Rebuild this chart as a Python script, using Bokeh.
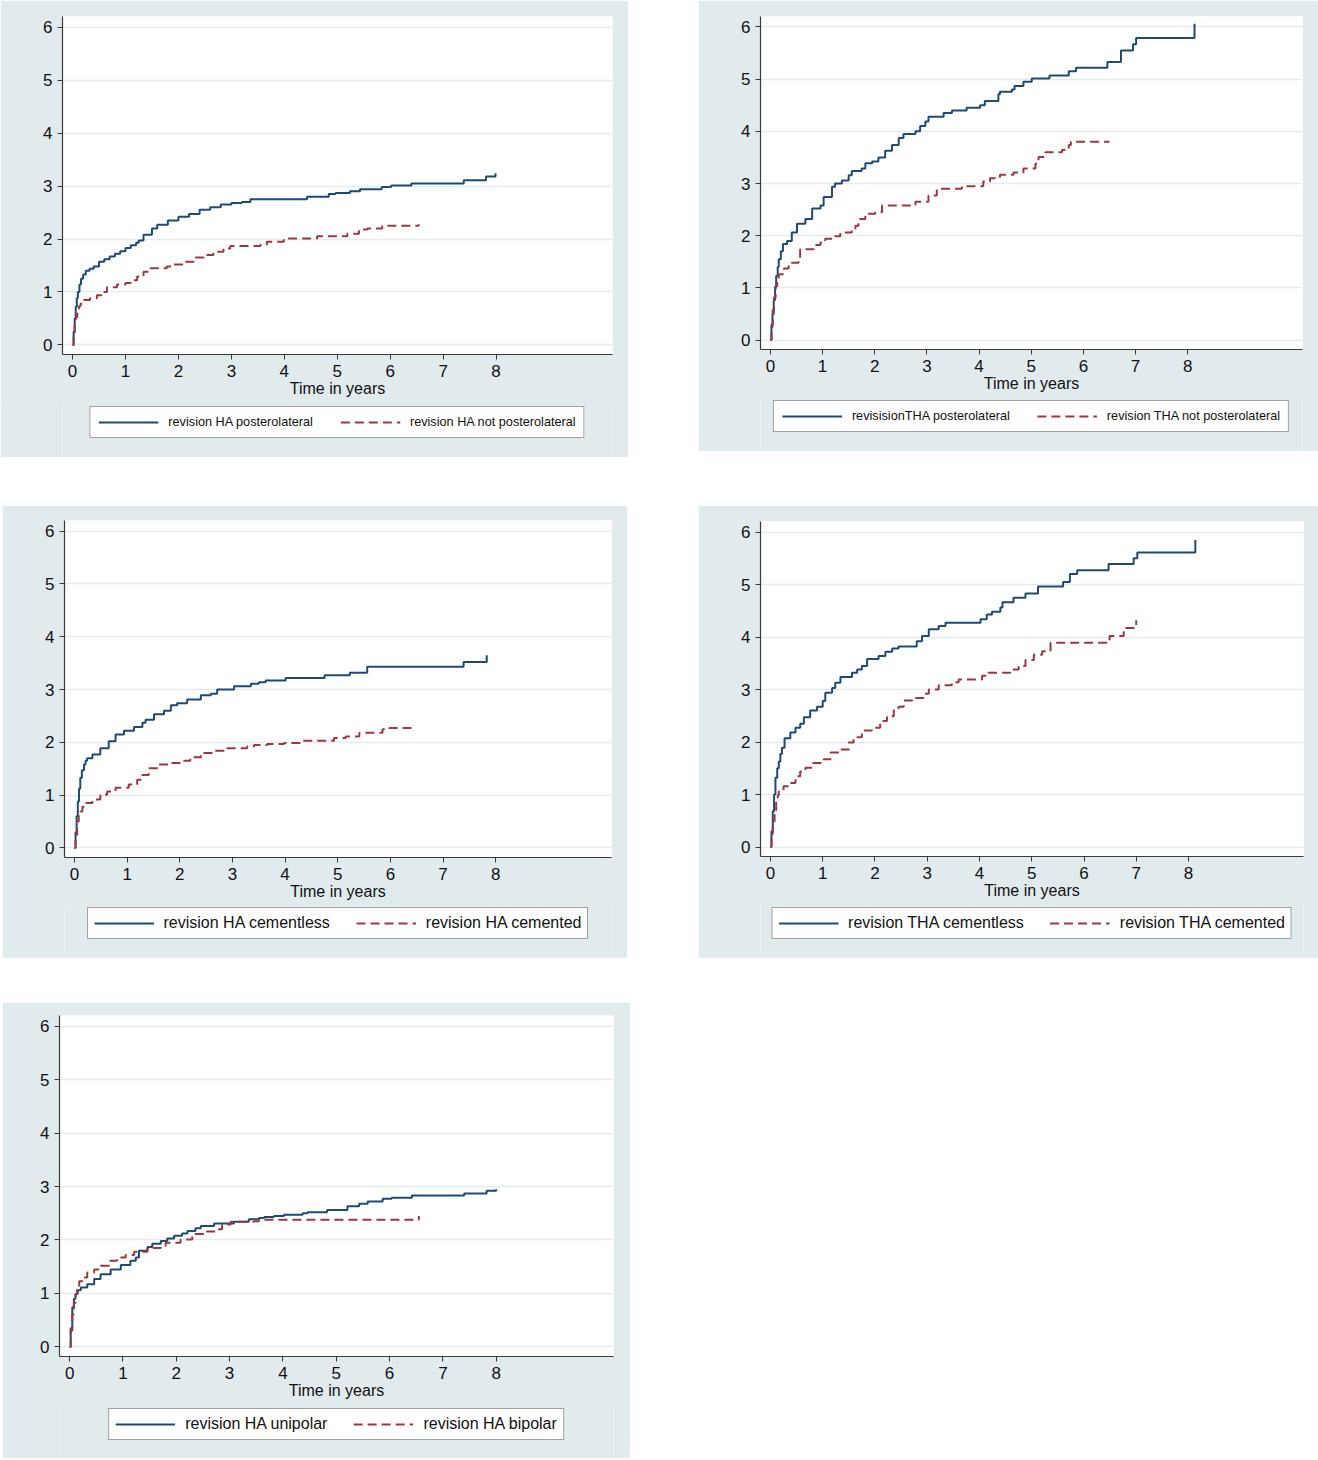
from bokeh.plotting import figure
from bokeh.models import Range1d, FixedTicker, Legend, LegendItem, Spacer
from bokeh.layouts import column, row
from bokeh.embed import file_html
from bokeh.resources import INLINE

# ---------------- data (cumulative revision %, time in years) ----------------
x_ticks = [0, 1, 2, 3, 4, 5, 6, 7, 8]
y_ticks = [0, 1, 2, 3, 4, 5, 6]
x_label = "Time in years"

# Panel 1: HA posterolateral vs not posterolateral
p1_blue_label = "revision HA posterolateral"
p1_blue_t = [0, 0.02, 0.04, 0.06, 0.08, 0.1, 0.13, 0.16, 0.2, 0.25, 0.32, 0.4, 0.5, 0.6, 0.7, 0.8, 0.9, 1.0, 1.1,
             1.2, 1.25, 1.34, 1.5, 1.6, 1.8, 2.0, 2.2, 2.4, 2.6, 2.8, 3.0, 3.2, 3.36, 4.43, 4.84, 4.97, 5.24,
             5.43, 5.84, 6.02, 6.40, 7.39, 7.81, 7.99, 7.99]
p1_blue_y = [0, 0.25, 0.5, 0.72, 0.88, 1.0, 1.14, 1.25, 1.33, 1.40, 1.44, 1.48, 1.57, 1.62, 1.67, 1.72, 1.77,
             1.83, 1.88, 1.93, 1.97, 2.08, 2.20, 2.27, 2.35, 2.42, 2.47, 2.55, 2.60, 2.65, 2.68, 2.70, 2.75,
             2.80, 2.85, 2.87, 2.90, 2.94, 2.98, 3.01, 3.05, 3.11, 3.18, 3.18, 3.24]
p1_red_label = "revision HA not posterolateral"
p1_red_t = [0, 0.02, 0.04, 0.06, 0.09, 0.12, 0.15, 0.21, 0.33, 0.46, 0.55, 0.65, 0.84, 1.0, 1.1, 1.22, 1.34,
            1.47, 1.78, 1.91, 2.1, 2.29, 2.48, 2.66, 2.85, 2.98, 3.55, 3.67, 3.99, 4.62, 5.19, 5.41, 5.57,
            5.85, 6.54, 6.54]
p1_red_y = [0, 0.2, 0.38, 0.52, 0.66, 0.73, 0.78, 0.85, 0.88, 0.94, 1.0, 1.09, 1.14, 1.17, 1.22, 1.29, 1.38,
            1.45, 1.48, 1.52, 1.57, 1.65, 1.70, 1.76, 1.82, 1.87, 1.89, 1.95, 2.01, 2.05, 2.10, 2.18, 2.20,
            2.25, 2.25, 2.28]

# Panel 2: THA posterolateral vs not posterolateral
p2_blue_label = "revisisionTHA posterolateral"
p2_blue_t = [0, 0.02, 0.04, 0.064, 0.09, 0.11, 0.14, 0.16, 0.2, 0.24, 0.32, 0.41, 0.51, 0.67, 0.8, 0.96, 1.02,
             1.18, 1.24, 1.37, 1.5, 1.56, 1.75, 1.82, 1.95, 2.07, 2.2, 2.33, 2.46, 2.55, 2.78, 2.87, 2.97,
             3.03, 3.32, 3.48, 3.76, 4.02, 4.11, 4.37, 4.40, 4.63, 4.68, 4.85, 5.01, 5.35, 5.72, 5.86, 6.46,
             6.72, 6.95, 7.01, 8.13, 8.13]
p2_blue_y = [0, 0.25, 0.5, 0.77, 1.02, 1.23, 1.4, 1.55, 1.7, 1.84, 1.90, 2.06, 2.23, 2.32, 2.52, 2.58, 2.74,
             2.94, 3.0, 3.06, 3.16, 3.24, 3.29, 3.39, 3.42, 3.50, 3.63, 3.74, 3.87, 3.95, 4.0, 4.10, 4.19,
             4.28, 4.35, 4.40, 4.45, 4.50, 4.58, 4.71, 4.76, 4.80, 4.87, 4.95, 5.01, 5.07, 5.15, 5.22, 5.33,
             5.55, 5.67, 5.79, 5.79, 6.06]
p2_red_label = "revision THA not posterolateral"
p2_red_t = [0, 0.02, 0.045, 0.07, 0.1, 0.13, 0.16, 0.26, 0.35, 0.41, 0.54, 0.57, 0.83, 0.96, 1.05, 1.21, 1.34,
            1.56, 1.63, 1.69, 1.82, 2.01, 2.14, 2.78, 3.03, 3.19, 3.67, 4.08, 4.21, 4.40, 4.66, 4.85, 5.08,
            5.14, 5.27, 5.59, 5.72, 5.76, 6.50]
p2_red_y = [0, 0.3, 0.58, 0.82, 1.03, 1.16, 1.26, 1.37, 1.42, 1.48, 1.52, 1.74, 1.82, 1.87, 1.94, 1.99, 2.06,
            2.12, 2.19, 2.32, 2.42, 2.45, 2.58, 2.65, 2.77, 2.90, 2.95, 3.04, 3.10, 3.17, 3.21, 3.29, 3.38,
            3.51, 3.60, 3.64, 3.74, 3.80, 3.80]

# Panel 3: HA cementless vs cemented
p3_blue_label = "revision HA cementless"
p3_blue_t = [0, 0.02, 0.04, 0.063, 0.085, 0.11, 0.14, 0.18, 0.21, 0.24, 0.34, 0.49, 0.65, 0.78, 0.94, 1.13,
             1.29, 1.35, 1.51, 1.7, 1.83, 1.95, 2.14, 2.4, 2.59, 2.71, 3.03, 3.35, 3.5, 3.63, 4.01, 4.75, 5.23,
             5.56, 7.39, 7.83, 7.83]
p3_blue_y = [0, 0.3, 0.6, 0.88, 1.12, 1.33, 1.47, 1.58, 1.65, 1.70, 1.77, 1.89, 2.02, 2.15, 2.22, 2.29, 2.37,
             2.43, 2.53, 2.60, 2.70, 2.74, 2.81, 2.89, 2.92, 3.0, 3.06, 3.11, 3.14, 3.17, 3.22, 3.27, 3.32,
             3.43, 3.52, 3.52, 3.65]
p3_red_label = "revision HA cemented"
p3_red_t = [0, 0.02, 0.05, 0.08, 0.11, 0.15, 0.21, 0.34, 0.49, 0.62, 0.78, 1.03, 1.19, 1.29, 1.41, 1.6, 1.83,
            2.05, 2.2, 2.4, 2.65, 2.9, 3.28, 3.41, 3.66, 3.98, 4.33, 4.93, 5.15, 5.41, 5.85, 5.98, 6.42]
p3_red_y = [0, 0.25, 0.5, 0.6, 0.69, 0.78, 0.85, 0.92, 1.01, 1.07, 1.14, 1.20, 1.29, 1.38, 1.51, 1.58, 1.61,
            1.65, 1.72, 1.80, 1.84, 1.89, 1.92, 1.95, 1.97, 1.99, 2.03, 2.08, 2.11, 2.18, 2.25, 2.27, 2.27]

# Panel 4: THA cementless vs cemented
p4_blue_label = "revision THA cementless"
p4_blue_t = [0, 0.02, 0.045, 0.07, 0.096, 0.13, 0.16, 0.19, 0.22, 0.27, 0.38, 0.48, 0.57, 0.64, 0.76, 0.89,
             1.0, 1.05, 1.18, 1.24, 1.34, 1.56, 1.66, 1.75, 1.85, 2.07, 2.2, 2.33, 2.45, 2.8, 2.9, 3.03, 3.22,
             3.35, 4.02, 4.14, 4.24, 4.40, 4.44, 4.65, 4.88, 5.12, 5.60, 5.73, 5.87, 6.47, 6.95, 7.02, 8.13, 8.13]
p4_blue_y = [0, 0.3, 0.68, 1.0, 1.32, 1.5, 1.63, 1.77, 1.89, 2.07, 2.18, 2.27, 2.35, 2.47, 2.60, 2.67, 2.78,
             2.94, 3.03, 3.13, 3.24, 3.32, 3.38, 3.45, 3.58, 3.64, 3.72, 3.78, 3.82, 3.92, 4.02, 4.15, 4.21,
             4.27, 4.34, 4.43, 4.48, 4.56, 4.66, 4.75, 4.83, 4.96, 5.05, 5.20, 5.27, 5.39, 5.50, 5.61, 5.61, 5.85]
p4_red_label = "revision THA cemented"
p4_red_t = [0, 0.02, 0.045, 0.08, 0.11, 0.14, 0.16, 0.25, 0.38, 0.48, 0.57, 0.67, 0.8, 1.02, 1.15, 1.34, 1.5,
            1.59, 1.75, 1.94, 2.1, 2.23, 2.36, 2.45, 2.55, 2.71, 2.93, 3.03, 3.22, 3.47, 3.6, 4.05, 4.17, 4.59,
            4.75, 4.88, 5.04, 5.20, 5.36, 6.49, 6.76, 7.0, 7.0]
p4_red_y = [0, 0.25, 0.49, 0.7, 0.87, 0.98, 1.06, 1.16, 1.22, 1.35, 1.44, 1.51, 1.60, 1.67, 1.80, 1.86, 1.99,
            2.09, 2.22, 2.27, 2.40, 2.49, 2.60, 2.67, 2.79, 2.84, 2.92, 3.0, 3.08, 3.14, 3.19, 3.26, 3.32,
            3.38, 3.45, 3.56, 3.66, 3.73, 3.89, 4.02, 4.17, 4.17, 4.32]

# Panel 5: HA unipolar vs bipolar
p5_blue_label = "revision HA unipolar"
p5_blue_t = [0, 0.02, 0.05, 0.08, 0.11, 0.15, 0.21, 0.33, 0.46, 0.58, 0.77, 0.96, 1.14, 1.24, 1.30, 1.46, 1.55,
             1.71, 1.83, 1.96, 2.11, 2.21, 2.36, 2.46, 2.71, 3.08, 3.36, 3.55, 3.65, 3.83, 4.02, 4.37, 4.46,
             4.83, 5.21, 5.43, 5.59, 5.87, 6.04, 6.42, 7.40, 7.82, 8.0]
p5_blue_y = [0, 0.35, 0.74, 0.9, 0.99, 1.06, 1.11, 1.17, 1.27, 1.36, 1.45, 1.53, 1.61, 1.67, 1.80, 1.87, 1.93,
             1.98, 2.03, 2.08, 2.12, 2.17, 2.22, 2.26, 2.31, 2.34, 2.39, 2.41, 2.43, 2.45, 2.47, 2.50, 2.52,
             2.56, 2.63, 2.68, 2.72, 2.77, 2.79, 2.83, 2.87, 2.92, 2.95]
p5_red_label = "revision HA bipolar"
p5_red_t = [0, 0.02, 0.05, 0.08, 0.11, 0.14, 0.18, 0.27, 0.33, 0.46, 0.58, 0.74, 0.89, 1.05, 1.21, 1.46, 1.71,
            1.80, 2.08, 2.30, 2.52, 2.80, 2.86, 3.02, 3.46, 3.55, 6.55, 6.55]
p5_red_y = [0, 0.3, 0.61, 0.82, 0.99, 1.12, 1.23, 1.30, 1.39, 1.45, 1.52, 1.61, 1.67, 1.72, 1.78, 1.85, 1.89,
            1.95, 2.01, 2.11, 2.16, 2.20, 2.29, 2.34, 2.35, 2.38, 2.38, 2.45]

# ---------------- styling ----------------
BG = "#e1eaed"
GRID = "#e4ecef"
NAVY = "#1f4a73"
MAROON = "#9a3a40"
AXIS = "#3a3a3a"
FONT = "Liberation Sans"
DASH = "9 5"


def make_panel(width, height, left, right, top, bottom, blue, red):
    p = figure(width=width, height=height, output_backend="svg", toolbar_location=None,
               x_range=Range1d(-0.19, 10.2), y_range=Range1d(-0.18, 6.2),
               min_border_left=left, min_border_right=right, min_border_top=top,
               min_border_bottom=bottom)
    p.title.visible = False
    p.background_fill_color = "white"
    p.border_fill_color = BG
    p.outline_line_color = None

    p.xgrid.visible = False
    p.ygrid.ticker = FixedTicker(ticks=y_ticks)
    p.ygrid.grid_line_color = GRID
    p.ygrid.grid_line_width = 1.5

    p.xaxis.ticker = FixedTicker(ticks=x_ticks)
    p.yaxis.ticker = FixedTicker(ticks=y_ticks)
    for ax in (p.xaxis, p.yaxis):
        ax.axis_line_color = AXIS
        ax.axis_line_width = 1.2
        ax.major_tick_line_color = AXIS
        ax.major_tick_out = 5
        ax.major_tick_in = 0
        ax.minor_tick_line_color = None
        ax.major_label_text_font = FONT
        ax.major_label_text_font_size = "17px"
        ax.major_label_text_color = "#111111"
        ax.major_label_standoff = 5
    p.xaxis.major_label_standoff = 5
    p.xaxis.axis_label = x_label
    p.xaxis.axis_label_text_font = FONT
    p.xaxis.axis_label_text_font_size = "16px"
    p.xaxis.axis_label_text_font_style = "normal"
    p.xaxis.axis_label_text_color = "#111111"
    p.xaxis.axis_label_standoff = 0

    bt, by, _ = blue
    rt, ry, _ = red
    p.step(bt, by, mode="after", line_color=NAVY, line_width=2)
    p.step(rt, ry, mode="after", line_color=MAROON, line_width=2, line_dash=DASH)
    return p


def make_legend(width, height, left, right, top_gap, blue, red, font_size, spacing, padding):
    # legend strip under the plot; its series lines lie outside the visible range, only the
    # legend entries show
    q = figure(width=width, height=height, output_backend="svg", toolbar_location=None,
               x_range=Range1d(0, 1), y_range=Range1d(50, 51), x_axis_type=None, y_axis_type=None,
               min_border_left=left, min_border_right=right, min_border_top=0, min_border_bottom=0,
               margin=(-1, 0, 0, 0))
    q.title.visible = False
    q.grid.visible = False
    q.background_fill_color = BG
    q.border_fill_color = BG
    q.outline_line_color = None
    bt, by, bl = blue
    rt, ry, rl = red
    rb = q.step(bt, by, mode="after", line_color=NAVY, line_width=2)
    rr = q.step(rt, ry, mode="after", line_color=MAROON, line_width=2, line_dash=DASH)
    legend = Legend(items=[LegendItem(label=bl, renderers=[rb]),
                           LegendItem(label=rl, renderers=[rr])],
                    location="top_center", orientation="horizontal")
    legend.label_text_font = FONT
    legend.label_text_font_size = font_size
    legend.label_text_color = "#111111"
    legend.glyph_width = 60
    legend.glyph_height = 14
    legend.label_height = 14
    legend.label_standoff = 10
    legend.spacing = spacing
    legend.padding = padding
    legend.margin = top_gap
    legend.border_line_color = "#444444"
    legend.border_line_width = 1
    legend.background_fill_color = "white"
    legend.background_fill_alpha = 1.0
    q.add_layout(legend)
    return q


s1b = (p1_blue_t, p1_blue_y, p1_blue_label)
s1r = (p1_red_t, p1_red_y, p1_red_label)
s2b = (p2_blue_t, p2_blue_y, p2_blue_label)
s2r = (p2_red_t, p2_red_y, p2_red_label)
s3b = (p3_blue_t, p3_blue_y, p3_blue_label)
s3r = (p3_red_t, p3_red_y, p3_red_label)
s4b = (p4_blue_t, p4_blue_y, p4_blue_label)
s4r = (p4_red_t, p4_red_y, p4_red_label)
s5b = (p5_blue_t, p5_blue_y, p5_blue_label)
s5r = (p5_red_t, p5_red_y, p5_red_label)

p1 = make_panel(628, 402, 62, 16, 16, 48, s1b, s1r)
l1 = make_legend(628, 56, 62, 16, 5, s1b, s1r, "12.7px", 27, 8)
p2 = make_panel(620, 397, 62, 16, 16, 48, s2b, s2r)
l2 = make_legend(620, 55, 62, 16, 4, s2b, s2r, "12.7px", 27, 8)
p3 = make_panel(625, 400, 62, 16, 15, 48, s3b, s3r)
l3 = make_legend(625, 54, 62, 16, 3, s3b, s3r, "16px", 26, 6)
p4 = make_panel(620, 399, 62, 15, 16, 48, s4b, s4r)
l4 = make_legend(620, 55, 62, 15, 4, s4b, s4r, "16px", 26, 6)
p5 = make_panel(628, 402, 57, 17, 13, 48, s5b, s5r)
l5 = make_legend(628, 55, 57, 17, 5, s5b, s5r, "16px", 26, 6)

layout = column(
    row(column(p1, l1), Spacer(width=70), column(p2, l2)),
    Spacer(height=48),
    row(Spacer(width=2), column(p3, l3), Spacer(width=71), column(p4, l4)),
    Spacer(height=44),
    row(Spacer(width=2), column(p5, l5)),
)

open("out.html", "w").write(file_html(layout, INLINE))
